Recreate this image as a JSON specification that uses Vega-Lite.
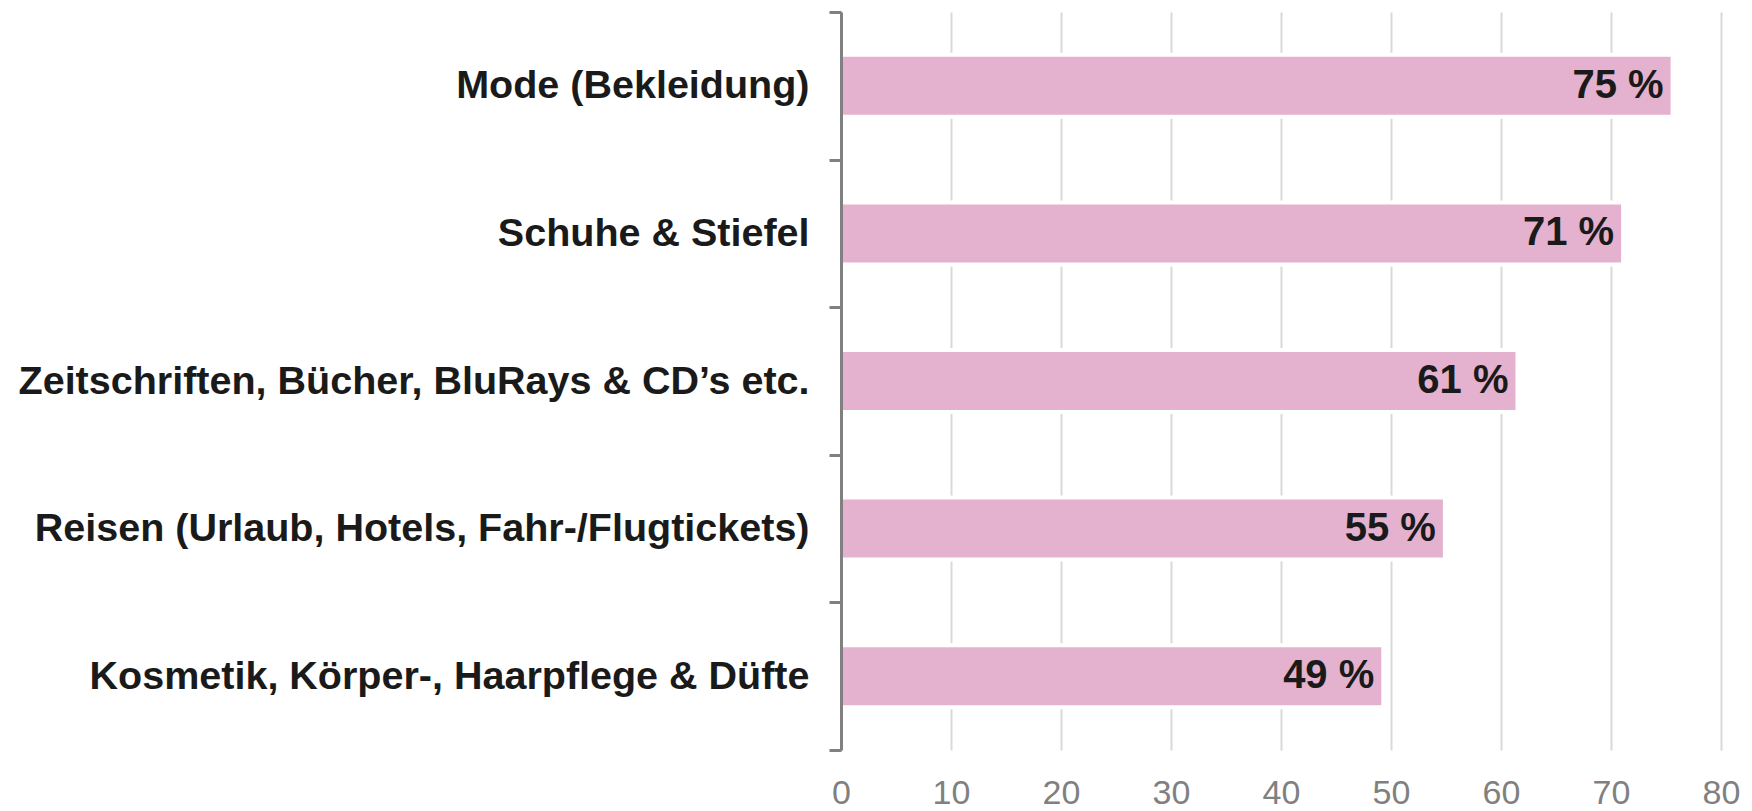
{
  "$schema": "https://vega.github.io/schema/vega-lite/v6.json",
  "autosize": "none",
  "padding": {"left": 841, "top": 12, "right": 31, "bottom": 61},
  "width": 880,
  "height": 738,
  "background": "white",
  "data": {
    "values": [
      {"cat": "Mode (Bekleidung)", "value": 75.6, "label": "75 %"},
      {"cat": "Schuhe & Stiefel", "value": 71.1, "label": "71 %"},
      {"cat": "Zeitschriften, Bücher, BluRays & CD’s etc.", "value": 61.5, "label": "61 %"},
      {"cat": "Reisen (Urlaub, Hotels, Fahr-/Flugtickets)", "value": 54.9, "label": "55 %"},
      {"cat": "Kosmetik, Körper-, Haarpflege & Düfte", "value": 49.3, "label": "49 %"}
    ]
  },
  "config": {"view": {"stroke": null}},
  "encoding": {
    "y": {
      "field": "cat",
      "type": "nominal",
      "sort": null,
      "title": null,
      "scale": {"paddingInner": 0, "paddingOuter": 0},
      "axis": {
        "zindex": 1,
        "tickBand": "extent",
        "domainColor": "#808080",
        "domainWidth": 3,
        "tickColor": "#808080",
        "tickWidth": 3,
        "tickSize": 12,
        "labelPadding": 20,
        "labelFont": "Liberation Sans",
        "labelFontWeight": "bold",
        "labelFontSize": 39.5,
        "labelColor": "#1a1a1a",
        "labelLimit": 900,
        "grid": false
      }
    }
  },
  "layer": [
    {
      "mark": {"type": "bar", "color": "#e4b2ce", "stroke": "white", "strokeWidth": 4, "height": {"band": 0.42}},
      "encoding": {
        "x": {
          "field": "value",
          "type": "quantitative",
          "title": null,
          "scale": {"domain": [0, 80], "nice": false, "zero": true},
          "axis": {
            "values": [0, 10, 20, 30, 40, 50, 60, 70, 80],
            "domain": false,
            "ticks": false,
            "grid": true,
            "gridColor": "#d9d9d9",
            "gridWidth": 2,
            "labelFlush": false,
            "labelOverlap": false,
            "labelPadding": 26,
            "labelFont": "Liberation Sans",
            "labelFontSize": 34,
            "labelColor": "#808080"
          }
        }
      }
    },
    {
      "mark": {"type": "text", "align": "right", "baseline": "middle", "dx": -9, "font": "Liberation Sans", "fontWeight": "bold", "fontSize": 40, "color": "#1a1a1a"},
      "encoding": {
        "x": {"field": "value", "type": "quantitative"},
        "text": {"field": "label"}
      }
    }
  ]
}
